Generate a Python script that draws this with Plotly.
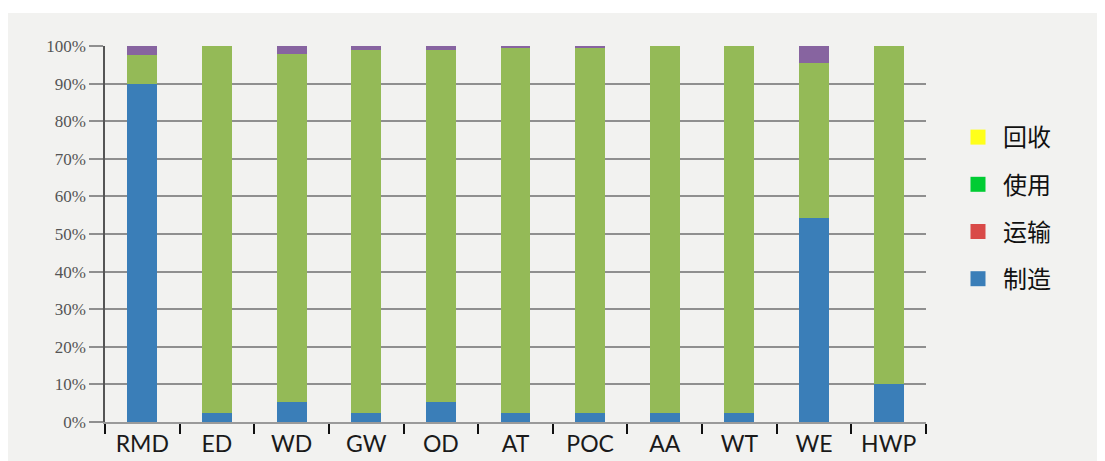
import plotly.graph_objects as go

categories = ["RMD", "ED", "WD", "GW", "OD", "AT", "POC", "AA", "WT", "WE", "HWP"]
manufacture = [90.0, 2.5, 5.3, 2.5, 5.3, 2.5, 2.5, 2.5, 2.5, 54.3, 10.2]   # 制造
transport = [0, 0, 0, 0, 0, 0, 0, 0, 0, 0, 0]                              # 运输
use = [7.6, 97.5, 92.6, 96.4, 93.7, 97.2, 97.2, 97.5, 97.5, 41.3, 89.8]     # 使用
recycle = [2.4, 0, 2.1, 1.1, 1.0, 0.3, 0.3, 0, 0, 4.4, 0]                   # 回收

series_names = ["制造", "运输", "使用", "回收"]
series_values = [manufacture, transport, use, recycle]
bar_colors = ["#3a7eb8", "#c0504d", "#94ba57", "#8764a0"]

legend_names = ["回收", "使用", "运输", "制造"]
legend_colors = ["#ffff1a", "#00cc33", "#d94a48", "#3a7eb8"]

fig = go.Figure()
for name, vals, c in zip(series_names, series_values, bar_colors):
    fig.add_trace(go.Bar(
        x=categories, y=vals, name=name, marker_color=c,
        marker_line=dict(width=0), showlegend=False,
    ))

for i, (name, c) in enumerate(zip(legend_names, legend_colors)):
    fig.add_trace(go.Scatter(
        x=[None], y=[None], mode="markers", name=name, legendgroup=f"g{i}",
        marker=dict(symbol="square", size=15, color=c),
    ))

# page is offset by the 8px body margin
W, H = 1097, 453
ml, mr, mt, mb = 97, 179, 38, 39
pw, ph = W - ml - mr, H - mt - mb

def px_to_paper_x(px):
    return (px - ml) / pw

def px_to_paper_y(py):
    return (H - mb - py) / ph

fig.add_shape(type="rect", xref="paper", yref="paper",
              x0=px_to_paper_x(0), x1=px_to_paper_x(W + 5),
              y0=px_to_paper_y(H + 5), y1=px_to_paper_y(5),
              fillcolor="#f2f2f0", line=dict(width=0), layer="below")

fig.update_layout(
    width=W, height=H,
    margin=dict(l=ml, r=mr, t=mt, b=mb, autoexpand=False),
    barmode="stack", bargap=0.6,
    paper_bgcolor="white", plot_bgcolor="rgba(0,0,0,0)",
    legend=dict(
        x=px_to_paper_x(945), y=px_to_paper_y(107), xanchor="left", yanchor="top",
        font=dict(family="Noto Sans CJK SC", size=24, color="#111111"),
        tracegroupgap=13, bgcolor="rgba(0,0,0,0)", itemwidth=40,
    ),
    xaxis=dict(
        type="category", showgrid=False, showline=True, linecolor="#9a9a9a", linewidth=2,
        ticks="outside", tickson="boundaries", ticklen=10, tickwidth=2, tickcolor="#111111",
        tickfont=dict(family="Lato", size=23, color="#1a1a1a"), automargin=False,
    ),
    yaxis=dict(
        range=[0, 100], dtick=10, ticksuffix="%", showgrid=True, gridcolor="#8f8f8f",
        gridwidth=1.5, zeroline=False, showline=True, linecolor="#555555", linewidth=1.5,
        ticks="outside", ticklen=14, tickcolor="#8f8f8f", tickwidth=1.5, automargin=False,
        tickfont=dict(family="Liberation Serif, DejaVu Serif, serif", size=17, color="#555555"),
    ),
)

fig.write_html("out.html")
